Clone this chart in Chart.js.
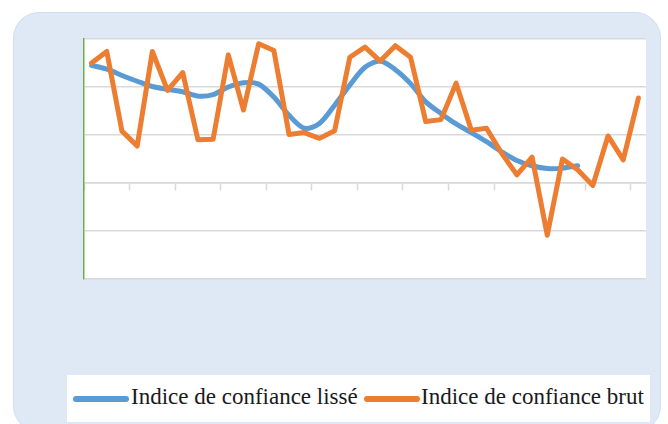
<!DOCTYPE html>
<html>
<head>
<meta charset="utf-8">
<script src="https://cdn.jsdelivr.net/npm/chart.js@4.4.0/dist/chart.umd.min.js"></script>
<style>
  html, body { margin: 0; padding: 0; background: #ffffff; }
  body { width: 668px; height: 424px; position: relative; overflow: hidden; }
  #frame { position: absolute; left: 13px; top: 12px; width: 648px; height: 420px;
           background: #dee9f5; border: 1px solid #cddff1; border-radius: 26px; box-sizing: border-box; }
  #plotbg { position: absolute; left: 84px; top: 39px; width: 562px; height: 240px; background: #ffffff; }
  #c { position: absolute; left: 0; top: 0; }
  #legend { position: absolute; left: 67px; top: 375px; width: 583px; height: 47px; background: #ffffff;
            font-family: "Liberation Serif", "Times New Roman", "DejaVu Serif", serif; font-size: 23px; color: #1a1a1a; }
  .sw { position: absolute; top: 21px; height: 6px; border-radius: 3px; }
  .lt { position: absolute; top: 9px; white-space: nowrap; line-height: 26px; }
</style>
</head>
<body>
<div id="frame"></div>
<div id="plotbg"></div>
<canvas id="c" width="668" height="424"></canvas>
<div id="legend">
  <div class="sw" style="left:6px;width:56px;background:#5B9BD5"></div>
  <div class="lt" id="t1" style="left:64px">Indice de confiance lissé</div>
  <div class="sw" style="left:297px;width:56px;background:#ED7D31"></div>
  <div class="lt" id="t2" style="left:354px">Indice de confiance brut</div>
</div>
<script>
const categories = Array.from({length: 37}, (_, i) => String(i + 1));
const seriesNames = ["Indice de confiance lissé", "Indice de confiance brut"];
const lisse = [24.5, 23.7, 22.4, 21.2, 20.1, 19.5, 19.0, 18.1, 18.4, 20.0, 20.9, 20.6, 17.9, 14.1, 11.4, 12.4, 16.2,
               20.4, 24.1, 25.4, 23.6, 20.7, 16.9, 14.5, 12.3, 10.5, 8.6, 6.5, 4.7, 3.6, 3.0, 3.1, 3.6];
const brut = [25.0, 27.4, 10.8, 7.7, 27.4, 19.3, 23.0, 9.0, 9.1, 26.7, 15.2, 29.0, 27.6, 10.1, 10.5, 9.3, 10.9,
              26.2, 28.3, 25.4, 28.6, 26.2, 12.8, 13.2, 20.8, 11.0, 11.4, 6.2, 1.7, 5.4, -10.9, 5.0, 2.75,
              -0.5, 9.8, 4.8, 17.7];
const yMin = -20, yMax = 30, yStep = 10;
const tickEvery = 3;

new Chart(document.getElementById('c'), {
  type: 'line',
  data: {
    labels: categories,
    datasets: [
      { label: seriesNames[0], data: lisse, borderColor: '#5B9BD5', borderWidth: 5, tension: 0.3,
        pointRadius: 0, borderCapStyle: 'round', borderJoinStyle: 'round', order: 1 },
      { label: seriesNames[1], data: brut, borderColor: '#ED7D31', borderWidth: 5, tension: 0,
        pointRadius: 0, borderCapStyle: 'round', borderJoinStyle: 'round', order: 0 }
    ]
  },
  options: {
    responsive: false,
    animation: false,
    layout: { padding: { left: 84, top: 39, right: 22, bottom: 145 } },
    plugins: { legend: { display: false }, tooltip: { enabled: false } },
    scales: {
      x: {
        type: 'category',
        offset: true,
        position: { y: 0 },
        ticks: { display: false, autoSkip: false },
        grid: {
          offset: true,
          drawOnChartArea: false,
          drawTicks: true,
          tickLength: 7,
          tickWidth: 1.5,
          tickColor: (ctx) => (ctx.index % tickEvery === 0 && ctx.index < categories.length) ? '#d9d9d9' : 'rgba(0,0,0,0)'
        },
        border: { display: true, color: '#d9d9d9', width: 1.5 }
      },
      y: {
        min: yMin, max: yMax,
        ticks: { display: false, stepSize: yStep },
        grid: { color: '#d9d9d9', lineWidth: 1.5, drawTicks: false },
        border: { display: true, color: '#70AD47', width: 1.5 }
      }
    }
  }
});
</script>
</body>
</html>
